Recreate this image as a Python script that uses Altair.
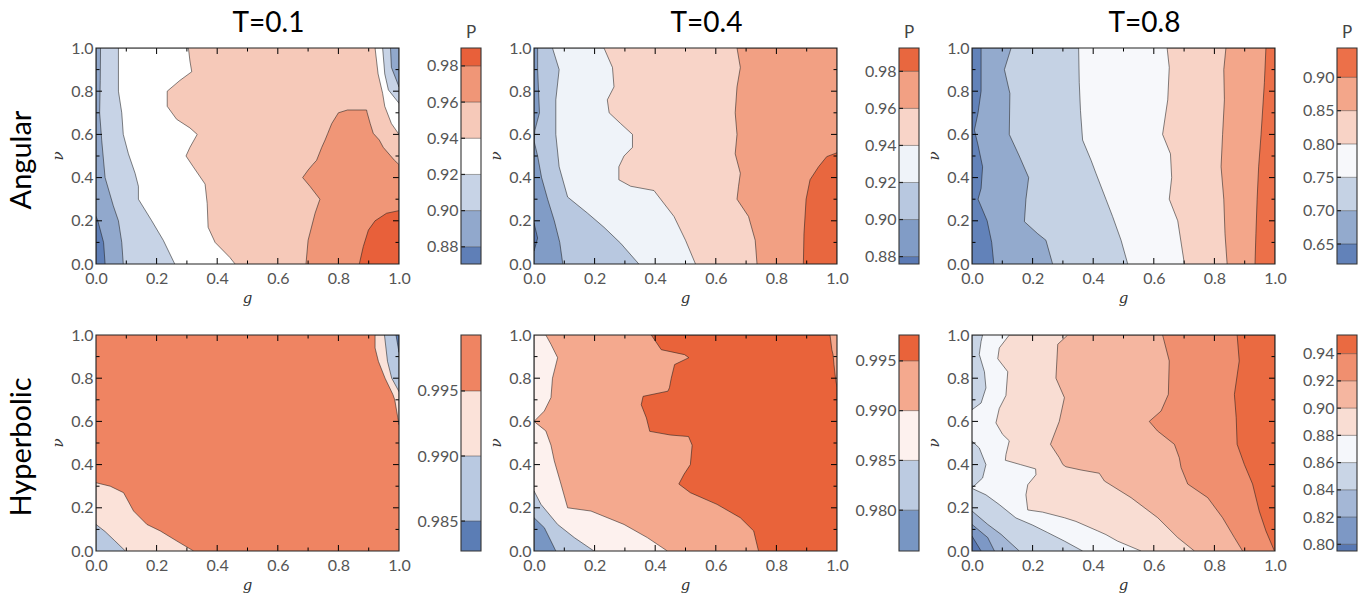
import altair as alt
import pandas as pd

PANEL_W = 303
PANEL_H = 216
BAR_X0 = 365
BAR_X1 = 385

COL_TITLES = ["T=0.1", "T=0.4", "T=0.8"]
ROW_LABELS = ["Angular", "Hyperbolic"]
CBAR_TITLE = "P"
X_TITLE = "g"
Y_TITLE = "ν"
AXIS_VALUES = [0.0, 0.2, 0.4, 0.6, 0.8, 1.0]
MAJOR_TICKS = [0.2, 0.4, 0.6, 0.8]
MINOR_TICKS = [0.1, 0.3, 0.5, 0.7, 0.9]

# ---------------- colour levels (colorbar edges) and colours ----------------
A01_LEVELS = [0.8705, 0.88, 0.90, 0.92, 0.94, 0.96, 0.98, 0.9899]
A01_COLORS = ["#5f7fb7", "#91a8cc", "#c7d3e6", "#ffffff", "#f6c9b9", "#f09677", "#e8603a"]
A04_LEVELS = [0.876, 0.88, 0.90, 0.92, 0.94, 0.96, 0.98, 0.9926]
A04_COLORS = ["#5b7ab5", "#819cc6", "#b8c8e0", "#eff3f9", "#f8d4c8", "#f2a083", "#e8673f"]
A08_LEVELS = [0.620, 0.65, 0.70, 0.75, 0.80, 0.85, 0.90, 0.944]
A08_COLORS = ["#6282b9", "#93aacd", "#c5d2e4", "#f7f8fb", "#f8d3c6", "#f3a68a", "#ec7049"]
H01_LEVELS = [0.9827, 0.985, 0.990, 0.995, 0.9993]
H01_COLORS = ["#5b7db5", "#b9c9e1", "#fbe2d9", "#ef8462"]
H04_LEVELS = [0.9759, 0.980, 0.985, 0.990, 0.995, 0.9976]
H04_COLORS = ["#7896c3", "#bccbe1", "#fdf1ee", "#f4a98e", "#e9633a"]
H08_LEVELS = [0.7951, 0.80, 0.82, 0.84, 0.86, 0.88, 0.90, 0.92, 0.94, 0.9537]
H08_COLORS = ["#5878b3", "#7d98c5", "#a4b7d6", "#c9d5e6", "#f5f7fb", "#f9ddd3", "#f5b6a0", "#f08f6f", "#ea6a41"]

# ---------------- contour regions: rows of (nu, g_left, g_right) ----------------
FULL = [(0.0, 0.0, 1.0), (1.0, 0.0, 1.0)]

# Angular, T=0.1
A01_WHITE = [(0.0, 0, 0.459), (0.03, 0, 0.442), (0.10, 0, 0.393), (0.17, 0, 0.37), (0.28, 0, 0.367),
             (0.37, 0, 0.36), (0.45, 0, 0.321), (0.50, 0, 0.297), (0.54, 0, 0.31), (0.60, 0, 0.334),
             (0.63, 0, 0.31), (0.67, 0, 0.266), (0.73, 0, 0.235), (0.80, 0, 0.235), (0.85, 0, 0.277),
             (0.89, 0, 0.316), (0.94, 0, 0.31), (1.0, 0, 0.305)]
A01_LBLUE = [(0.0, 0, 0.26), (0.11, 0, 0.222), (0.2, 0, 0.184), (0.3, 0, 0.14), (0.36, 0, 0.14),
             (0.42, 0, 0.129), (0.51, 0, 0.107), (0.6, 0, 0.09), (0.7, 0, 0.085), (0.8, 0, 0.074), (1.0, 0, 0.074)]
A01_MBLUE = [(0.0, 0, 0.09), (0.1, 0, 0.085), (0.2, 0, 0.074), (0.27, 0, 0.057), (0.4, 0, 0.03),
             (0.57, 0, 0.019), (0.7, 0, 0.012), (0.85, 0, 0.014), (1.0, 0, 0.015)]
A01_DBLUE = [(0.0, 0, 0.03), (0.1, 0, 0.025), (0.2, 0, 0.006), (0.22, 0, 0.0)]
A01_SALMON = [(0.0, 0.693, 1), (0.11, 0.70, 1), (0.235, 0.723, 1), (0.30, 0.739, 1), (0.36, 0.706, 1),
              (0.40, 0.682, 1), (0.435, 0.70, 1), (0.46, 0.715, 1), (0.48, 0.728, 0.985), (0.54, 0.745, 0.948),
              (0.574, 0.756, 0.935), (0.605, 0.765, 0.915), (0.65, 0.778, 0.905), (0.70, 0.80, 0.895),
              (0.713, 0.83, 0.893)]
A01_RED = [(0.0, 0.869, 1), (0.08, 0.882, 1), (0.157, 0.899, 1), (0.2, 0.921, 1), (0.235, 0.959, 1), (0.247, 1.0, 1)]
A01_TR_WHITE = [(0.6, 1.0, 1), (0.65, 0.975, 1), (0.73, 0.953, 1), (0.79, 0.946, 1), (0.88, 0.931, 1), (1.0, 0.921, 1)]
A01_TR_LBLUE = [(0.744, 1.0, 1), (0.806, 0.965, 1), (0.88, 0.953, 1), (1.0, 0.946, 1)]
A01_TR_MBLUE = [(0.82, 1.0, 1), (0.91, 0.975, 1), (1.0, 0.972, 1)]

# Angular, T=0.4
A04_L3 = [(0.0, 0, 0.533), (0.11, 0, 0.50), (0.22, 0, 0.462), (0.30, 0, 0.418), (0.34, 0, 0.396),
          (0.36, 0, 0.319), (0.39, 0, 0.28), (0.45, 0, 0.28), (0.50, 0, 0.297), (0.54, 0, 0.325),
          (0.60, 0, 0.325), (0.65, 0, 0.286), (0.70, 0, 0.248), (0.76, 0, 0.242), (0.82, 0, 0.264),
          (0.91, 0, 0.259), (1.0, 0, 0.231)]
A04_L2 = [(0.0, 0, 0.346), (0.096, 0, 0.286), (0.17, 0, 0.231), (0.235, 0, 0.177), (0.31, 0, 0.111),
          (0.45, 0, 0.083), (0.6, 0, 0.072), (0.76, 0, 0.072), (0.9, 0, 0.083), (1.0, 0, 0.061)]
A04_L1 = [(0.0, 0, 0.095), (0.1, 0, 0.085), (0.2, 0, 0.067), (0.3, 0, 0.045), (0.4, 0, 0.025),
          (0.5, 0, 0.012), (0.57, 0, 0.0), (0.62, 0, 0.003), (0.7, 0, 0.018), (0.8, 0, 0.015),
          (0.9, 0, 0.012), (1.0, 0, 0.012)]
A04_L0 = [(0.06, 0, 0.0), (0.12, 0, 0.012), (0.19, 0, 0.0)]
A04_L5 = [(0.0, 0.736, 1), (0.11, 0.730, 1), (0.22, 0.708, 1), (0.30, 0.67, 1), (0.36, 0.675, 1),
          (0.42, 0.681, 1), (0.51, 0.664, 1), (0.6, 0.67, 1), (0.7, 0.664, 1), (0.82, 0.67, 1),
          (0.91, 0.681, 1), (1.0, 0.67, 1)]
A04_L6 = [(0.0, 0.889, 1), (0.14, 0.891, 1), (0.3, 0.898, 1), (0.39, 0.911, 1), (0.45, 0.939, 1),
          (0.497, 0.966, 1), (0.515, 1.0, 1)]

# Angular, T=0.8
A08_L2 = [(0.0, 0, 0.514), (0.11, 0, 0.492), (0.22, 0, 0.464), (0.3, 0, 0.442), (0.42, 0, 0.409),
          (0.48, 0, 0.393), (0.574, 0, 0.365), (0.71, 0, 0.358), (0.84, 0, 0.354), (1.0, 0, 0.352)]
A08_L1 = [(0.0, 0, 0.266), (0.11, 0, 0.244), (0.14, 0, 0.217), (0.196, 0, 0.173), (0.3, 0, 0.178),
          (0.4, 0, 0.187), (0.5, 0, 0.156), (0.6, 0, 0.123), (0.79, 0, 0.125), (0.9, 0, 0.107), (1.0, 0, 0.129)]
A08_L0 = [(0.0, 0, 0.072), (0.1, 0, 0.065), (0.2, 0, 0.05), (0.3, 0, 0.02), (0.35, 0, 0.03),
          (0.45, 0, 0.035), (0.55, 0, 0.02), (0.62, 0, 0.008), (0.7, 0, 0.02), (0.8, 0, 0.03), (1.0, 0, 0.03)]
A08_L4 = [(0.0, 0.701, 1), (0.2, 0.679, 1), (0.3, 0.651, 1), (0.4, 0.659, 1), (0.51, 0.655, 1),
          (0.6, 0.629, 1), (0.76, 0.646, 1), (0.91, 0.651, 1), (1.0, 0.644, 1)]
A08_L5 = [(0.0, 0.842, 1), (0.14, 0.835, 1), (0.3, 0.831, 1), (0.45, 0.822, 1), (0.6, 0.827, 1),
          (0.76, 0.833, 1), (0.9, 0.831, 1), (1.0, 0.838, 1)]
A08_L6 = [(0.0, 0.934, 1), (0.14, 0.937, 1), (0.3, 0.941, 1), (0.45, 0.946, 1), (0.6, 0.954, 1),
          (0.84, 0.965, 1), (1.0, 0.970, 1)]

# Hyperbolic, T=0.1
H01_BL_PINK = [(0.0, 0, 0.322), (0.046, 0, 0.267), (0.093, 0, 0.212), (0.123, 0, 0.168), (0.185, 0, 0.124),
               (0.27, 0, 0.091), (0.30, 0, 0.047), (0.316, 0, 0.0)]
H01_BL_BLUE = [(0.0, 0, 0.097), (0.05, 0, 0.06), (0.09, 0, 0.03), (0.123, 0, 0.0)]
H01_TR_PINK = [(0.585, 1.0, 1), (0.70, 0.986, 1), (0.724, 0.98, 1), (0.80, 0.954, 1), (0.878, 0.932, 1),
               (0.94, 0.921, 1), (1.0, 0.921, 1)]
H01_TR_BLUE = [(0.738, 1.0, 1), (0.80, 0.976, 1), (0.878, 0.962, 1), (1.0, 0.952, 1)]
H01_TR_DBLUE = [(0.92, 1.0, 1), (1.0, 0.99, 1)]

# Hyperbolic, T=0.4
H04_L2 = [(0.0, 0, 0.44), (0.062, 0, 0.374), (0.123, 0, 0.297), (0.185, 0, 0.188), (0.20, 0, 0.111),
          (0.31, 0, 0.089), (0.417, 0, 0.067), (0.49, 0, 0.056), (0.556, 0, 0.039), (0.60, 0, 0.0),
          (0.648, 0, 0.034), (0.71, 0, 0.056), (0.80, 0, 0.061), (0.895, 0, 0.078), (0.957, 0, 0.056),
          (1.0, 0, 0.039)]
H04_L1 = [(0.0, 0, 0.198), (0.062, 0, 0.133), (0.123, 0, 0.078), (0.216, 0, 0.023), (0.278, 0, 0.0)]
H04_L0 = [(0.0, 0, 0.072), (0.046, 0, 0.056), (0.108, 0, 0.034), (0.154, 0, 0.0)]
H04_L4 = [(0.0, 0.741, 1), (0.093, 0.725, 1), (0.154, 0.681, 1), (0.216, 0.604, 1), (0.27, 0.516, 1),
          (0.31, 0.478, 1), (0.355, 0.495, 1), (0.40, 0.516, 1), (0.49, 0.522, 1), (0.53, 0.51, 1),
          (0.537, 0.45, 1), (0.554, 0.382, 1), (0.616, 0.371, 1), (0.677, 0.354, 1), (0.716, 0.36, 1),
          (0.74, 0.442, 1), (0.756, 0.447, 1.0), (0.80, 0.453, 0.995), (0.863, 0.464, 0.99),
          (0.895, 0.511, 0.988), (0.909, 0.497, 0.987), (0.932, 0.42, 0.983), (1.0, 0.387, 0.977)]

# Hyperbolic, T=0.8
H08_L5 = [(0.0, 0.558, 1), (0.046, 0.48, 1), (0.076, 0.442, 1), (0.093, 0.415, 1), (0.137, 0.343, 1),
          (0.154, 0.305, 1), (0.18, 0.233, 1), (0.19, 0.184, 1), (0.26, 0.178, 1), (0.307, 0.184, 1),
          (0.353, 0.211, 1), (0.38, 0.21, 1), (0.40, 0.16, 1), (0.42, 0.11, 1), (0.446, 0.112, 1),
          (0.51, 0.123, 1), (0.54, 0.101, 1), (0.593, 0.079, 1), (0.66, 0.09, 1), (0.72, 0.112, 1),
          (0.83, 0.118, 1), (0.89, 0.085, 1), (0.94, 0.09, 1), (1.0, 0.123, 1)]
H08_L6 = [(0.0, 0.734, 1), (0.062, 0.679, 1), (0.154, 0.613, 1), (0.247, 0.525, 1), (0.324, 0.437, 1),
          (0.36, 0.42, 1), (0.375, 0.36, 1), (0.39, 0.31, 1), (0.40, 0.30, 1), (0.432, 0.288, 1),
          (0.494, 0.259, 1), (0.6, 0.288, 1), (0.71, 0.305, 1), (0.80, 0.277, 1), (0.957, 0.283, 1),
          (1.0, 0.316, 1)]
H08_L7 = [(0.0, 0.893, 1), (0.062, 0.866, 1), (0.154, 0.827, 1), (0.247, 0.778, 1), (0.31, 0.712, 1),
          (0.386, 0.69, 1), (0.432, 0.684, 1), (0.494, 0.668, 1), (0.556, 0.612, 1), (0.60, 0.585, 1),
          (0.648, 0.624, 1), (0.725, 0.648, 1), (0.88, 0.651, 1), (1.0, 0.629, 1)]
H08_L8 = [(0.0, 0.998, 1), (0.093, 0.97, 1), (0.185, 0.948, 1), (0.31, 0.926, 1), (0.40, 0.899, 1),
          (0.494, 0.875, 1), (0.617, 0.872, 1), (0.725, 0.866, 1), (0.88, 0.882, 1), (1.0, 0.875, 1)]
H08_L3_TOP = [(0.654, 0, 0.0), (0.685, 0, 0.03), (0.755, 0, 0.046), (0.83, 0, 0.041), (0.91, 0, 0.024),
              (0.97, 0, 0.03), (1.0, 0, 0.035)]
H08_L3_MID = [(0.292, 0, 0.0), (0.338, 0, 0.035), (0.40, 0, 0.046), (0.477, 0, 0.024), (0.508, 0, 0.0)]
H08_L3_LOW = [(0.0, 0, 0.365), (0.046, 0, 0.305), (0.085, 0, 0.25), (0.12, 0, 0.2), (0.153, 0, 0.145),
              (0.215, 0, 0.09), (0.26, 0, 0.046), (0.29, 0, 0.0)]
H08_L2 = [(0.0, 0, 0.156), (0.077, 0, 0.096), (0.123, 0, 0.052), (0.185, 0, 0.0)]
H08_L1 = [(0.0, 0, 0.074), (0.062, 0, 0.052), (0.123, 0, 0.0)]
H08_L0 = [(0.0, 0, 0.03), (0.069, 0, 0.0)]

# painter's order: (colour level, region)
A01_REGIONS = [(4, FULL), (3, A01_WHITE), (2, A01_LBLUE), (1, A01_MBLUE), (0, A01_DBLUE), (5, A01_SALMON),
               (6, A01_RED), (3, A01_TR_WHITE), (2, A01_TR_LBLUE), (1, A01_TR_MBLUE)]
A04_REGIONS = [(4, FULL), (3, A04_L3), (2, A04_L2), (1, A04_L1), (0, A04_L0), (5, A04_L5), (6, A04_L6)]
A08_REGIONS = [(3, FULL), (2, A08_L2), (1, A08_L1), (0, A08_L0), (4, A08_L4), (5, A08_L5), (6, A08_L6)]
H01_REGIONS = [(3, FULL), (2, H01_BL_PINK), (1, H01_BL_BLUE), (2, H01_TR_PINK), (1, H01_TR_BLUE), (0, H01_TR_DBLUE)]
H04_REGIONS = [(3, FULL), (2, H04_L2), (1, H04_L1), (0, H04_L0), (4, H04_L4)]
H08_REGIONS = [(4, FULL), (5, H08_L5), (6, H08_L6), (7, H08_L7), (8, H08_L8), (3, H08_L3_TOP),
               (3, H08_L3_MID), (3, H08_L3_LOW), (2, H08_L2), (1, H08_L1), (0, H08_L0)]

PANELS = [
    [(A01_REGIONS, A01_COLORS, A01_LEVELS, ".2f"), (A04_REGIONS, A04_COLORS, A04_LEVELS, ".2f"),
     (A08_REGIONS, A08_COLORS, A08_LEVELS, ".2f")],
    [(H01_REGIONS, H01_COLORS, H01_LEVELS, ".3f"), (H04_REGIONS, H04_COLORS, H04_LEVELS, ".3f"),
     (H08_REGIONS, H08_COLORS, H08_LEVELS, ".2f")],
]

# ---------------- chart building ----------------
SC = alt.Scale(domain=[0, 1], nice=False, zero=False)
X_AX = alt.Axis(values=AXIS_VALUES, format=".1f", title=None, ticks=False, tickSize=0, domain=False,
                grid=False, labelPadding=6, labelFlush=False, labelOverlap=False)
Y_AX = alt.Axis(values=AXIS_VALUES, format=".1f", title=None, ticks=False, tickSize=0, domain=False,
                grid=False, labelPadding=3, labelFlush=False, labelOverlap=False)
LINE_COLOR = "#1a1a1a"


def region_layers(points, color, with_line):
    pts = sorted(points)
    df = pd.DataFrame(pts, columns=["v", "xl", "xr"])
    layers = [
        alt.Chart(df).mark_area(orient="horizontal", color=color, clip=True, opacity=1).encode(
            y=alt.Y("v:Q", scale=SC, axis=Y_AX),
            x=alt.X("xl:Q", scale=SC, axis=X_AX),
            x2="xr:Q",
        )
    ]
    if with_line:
        path = [(xl, v) for v, xl, xr in pts] + [(xr, v) for v, xl, xr in reversed(pts)]
        ldf = pd.DataFrame({"x": [p[0] for p in path], "v": [p[1] for p in path], "i": list(range(len(path)))})
        layers.append(
            alt.Chart(ldf).mark_line(color=LINE_COLOR, strokeWidth=0.9, opacity=0.6, clip=True).encode(
                x=alt.X("x:Q", scale=SC, axis=X_AX),
                y=alt.Y("v:Q", scale=SC, axis=Y_AX),
                order="i:Q",
            )
        )
    return layers


def tick_layers():
    out = []
    for ticks, ln in ((MAJOR_TICKS, 6), (MINOR_TICKS, 3.5)):
        tdf = pd.DataFrame({"t": ticks})
        xt = alt.X("t:Q", scale=SC, axis=X_AX)
        yt = alt.Y("t:Q", scale=SC, axis=Y_AX)
        rule = dict(color="black", strokeWidth=1)
        out.append(alt.Chart(tdf).mark_rule(**rule).encode(x=xt, y=alt.value(PANEL_H), y2=alt.value(PANEL_H - ln)))
        out.append(alt.Chart(tdf).mark_rule(**rule).encode(x=xt, y=alt.value(0), y2=alt.value(ln)))
        out.append(alt.Chart(tdf).mark_rule(**rule).encode(y=yt, x=alt.value(0), x2=alt.value(ln)))
        out.append(alt.Chart(tdf).mark_rule(**rule).encode(y=yt, x=alt.value(PANEL_W), x2=alt.value(PANEL_W - ln)))
    return out


def frame(x0, x1, color="#222"):
    return alt.Chart(pd.DataFrame({"f": [0]})).mark_rect(filled=False, stroke=color, strokeWidth=1.1).encode(
        x=alt.value(x0), x2=alt.value(x1), y=alt.value(0), y2=alt.value(PANEL_H))


def text_layer(text, size, color, x, y, font="Lato", angle=0, style="normal", baseline="alphabetic"):
    return alt.Chart(pd.DataFrame({"s": [text]})).mark_text(
        fontSize=size, font=font, color=color, align="center", baseline=baseline, angle=angle,
        fontStyle=style).encode(text="s:N", x=alt.value(x), y=alt.value(y))


def colorbar_layer(levels, colors, fmt, title):
    n = len(colors)
    cdf = pd.DataFrame({"lo": levels[:-1], "hi": levels[1:], "lev": [str(i) for i in range(n)]})
    ysc = alt.Scale(domain=[levels[0], levels[-1]], nice=False, zero=False)
    yax = alt.Axis(orient="left", offset=-BAR_X0, values=levels[1:-1], format=fmt, title=None, ticks=False,
                   tickSize=0, domain=False, grid=False, labelPadding=3, labelOverlap=False, labelFlush=False)
    tdf = pd.DataFrame({"t": levels[1:-1]})
    rects = alt.Chart(cdf).mark_rect().encode(
        y=alt.Y("lo:Q", scale=ysc, axis=yax), y2="hi:Q", x=alt.value(BAR_X0), x2=alt.value(BAR_X1),
        color=alt.Color("lev:N", scale=alt.Scale(domain=[str(i) for i in range(n)], range=colors), legend=None))
    div = alt.Chart(tdf).mark_rule(color=LINE_COLOR, opacity=0.45, strokeWidth=0.9).encode(
        y=alt.Y("t:Q", scale=ysc, axis=yax), x=alt.value(BAR_X0), x2=alt.value(BAR_X1))
    tk = alt.Chart(tdf).mark_rule(color="#222", strokeWidth=1.2).encode(
        y=alt.Y("t:Q", scale=ysc, axis=yax), x=alt.value(BAR_X0), x2=alt.value(BAR_X0 + 4))
    layers = [rects, div, tk, frame(BAR_X0, BAR_X1, "#333")]
    if title:
        layers.append(text_layer(title, 17, "#444", (BAR_X0 + BAR_X1) / 2, -10))
    return alt.layer(*layers)


def panel(regions, colors, levels, fmt, title, cbtitle):
    layers = []
    for lev, pts in regions:
        layers += region_layers(pts, colors[lev], pts is not FULL)
    layers += tick_layers()
    layers.append(frame(0, PANEL_W))
    layers.append(text_layer(X_TITLE, 15, "#333", PANEL_W / 2, PANEL_H + 39, font="DejaVu Serif", style="italic"))
    layers.append(text_layer(Y_TITLE, 15, "#333", -38, PANEL_H / 2, font="DejaVu Serif", style="italic",
                             angle=270, baseline="middle"))
    if title:
        layers.append(text_layer(title, 28, "black", PANEL_W / 2 + 21, -16))
    main = alt.layer(*layers)
    cb = colorbar_layer(levels, colors, fmt, cbtitle)
    return alt.layer(main, cb).resolve_scale(y="independent", color="independent").resolve_axis(
        y="independent").properties(width=PANEL_W, height=PANEL_H)


def row_label(text):
    return alt.Chart(pd.DataFrame({"label": [text]})).mark_text(
        angle=270, fontSize=29, font="Lato", color="black", align="center", baseline="middle").encode(
        text="label:N", x=alt.value(22), y=alt.value(112)).properties(
        width=44, height=PANEL_H, view=alt.ViewBackground(fill="white", stroke=None))


rows = []
for r, row in enumerate(PANELS):
    charts = [row_label(ROW_LABELS[r])]
    for c, (regions, colors, levels, fmt) in enumerate(row):
        charts.append(panel(regions, colors, levels, fmt, COL_TITLES[c] if r == 0 else None,
                            CBAR_TITLE if r == 0 else None))
    rows.append(alt.hconcat(*charts, spacing=7))

chart = alt.vconcat(*rows, spacing=21).properties(
    padding={"left": 0, "top": 10, "right": 5, "bottom": 5}
).configure_view(stroke=None).configure_axis(
    labelFont="Lato", labelFontSize=16, labelColor="#555"
)

chart.save("out.html", embed_options={"renderer": "svg", "actions": False})
